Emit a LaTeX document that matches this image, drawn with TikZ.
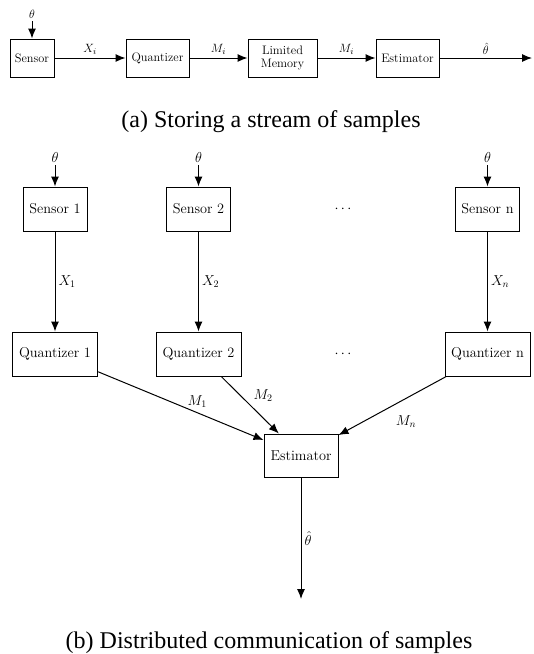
\documentclass[tikz,border=0pt]{standalone}
\usepackage{fontspec}
\newfontfamily\capfont{Liberation Serif}
\usetikzlibrary{arrows.meta}

\begin{document}
\begin{tikzpicture}[x=1pt, y=-1pt,
    blk/.style={draw, line width=1pt, inner sep=2pt, minimum height=38pt, font=\fontsize{12.3}{13}\selectfont},
    bigblk/.style={draw, line width=1pt, inner sep=2pt, minimum height=44pt, font=\fontsize{14.3}{16}\selectfont},
    lbl/.style={inner sep=3pt, font=\fontsize{12.3}{14}\selectfont},
    biglbl/.style={inner sep=3pt, font=\fontsize{14.3}{16}\selectfont},
    arr/.style={-{Latex[length=10pt, width=8pt]}, line width=1pt}]
    \useasboundingbox (0, 0) rectangle (534, 654);

    % (a) one sensor, one stream
    \node[lbl] (th) at (32, 14) {$\theta$};
    \node[blk, minimum width=44pt] (sen) at (32, 58) {Sensor};
    \node[blk, minimum width=63pt] (qua) at (157.5, 58) {Quantizer};
    \node[blk, minimum width=69pt, align=center] (mem) at (282.5, 58) {Limited\\Memory};
    \node[blk, minimum width=63pt] (est) at (407.5, 58) {Estimator};
    \coordinate (out) at (532, 58);

    \draw[arr] (th) -- (sen);
    \draw[arr] (sen) -- node[lbl, above] {$X_i$} (qua);
    \draw[arr] (qua) -- node[lbl, above] {$M_i$} (mem);
    \draw[arr] (mem) -- node[lbl, above] {$M_i$} (est);
    \draw[arr] (est) -- node[lbl, above] {$\hat{\theta}$} (out);

    \node[font=\capfont\fontsize{24}{28}\selectfont, anchor=base] (capa) at (271, 127) {(a) Storing a stream of samples};

    % (b) n sensors, one estimator
    \node[biglbl] (th1) at (55, 157) {$\theta$};
    \node[biglbl] (th2) at (198.5, 157) {$\theta$};
    \node[biglbl] (thn) at (487.5, 157) {$\theta$};

    \node[bigblk, minimum width=64pt] (sen1) at (55, 209) {Sensor 1};
    \node[bigblk, minimum width=64pt] (sen2) at (198.5, 209) {Sensor 2};
    \node[biglbl] (dots1) at (343, 209) {$\cdots$};
    \node[bigblk, minimum width=64pt] (senn) at (487.5, 209) {Sensor n};

    \node[bigblk, minimum width=85pt] (qua1) at (55, 354) {Quantizer 1};
    \node[bigblk, minimum width=85pt] (qua2) at (198.5, 354) {Quantizer 2};
    \node[biglbl] (dots2) at (343, 354) {$\cdots$};
    \node[bigblk, minimum width=85pt] (quan) at (487.5, 354) {Quantizer n};

    \node[bigblk, minimum width=74pt, minimum height=43pt] (fus) at (301, 455.5) {Estimator};
    \coordinate (fout) at (301, 599);

    \draw[arr] (th1) -- (sen1);
    \draw[arr] (th2) -- (sen2);
    \draw[arr] (thn) -- (senn);

    \draw[arr] (sen1) -- node[biglbl, right] {$X_1$} (qua1);
    \draw[arr] (sen2) -- node[biglbl, right] {$X_2$} (qua2);
    \draw[arr] (senn) -- node[biglbl, right] {$X_n$} (quan);

    \draw[arr] (qua1) -- node[biglbl, pos=0.6, above, yshift=2pt] {$M_1$} (fus);
    \draw[arr] (qua2) -- node[biglbl, midway, above right] {$M_2$} (fus);
    \draw[arr] (quan) -- node[biglbl, midway, below right, yshift=-6pt] {$M_n$} (fus);

    \draw[arr] (fus) -- node[biglbl, right] {$\hat{\theta}$} (fout);

    \node[font=\capfont\fontsize{24}{28}\selectfont, anchor=base] (capb) at (269, 648) {(b) Distributed communication of samples};
\end{tikzpicture}
\end{document}
